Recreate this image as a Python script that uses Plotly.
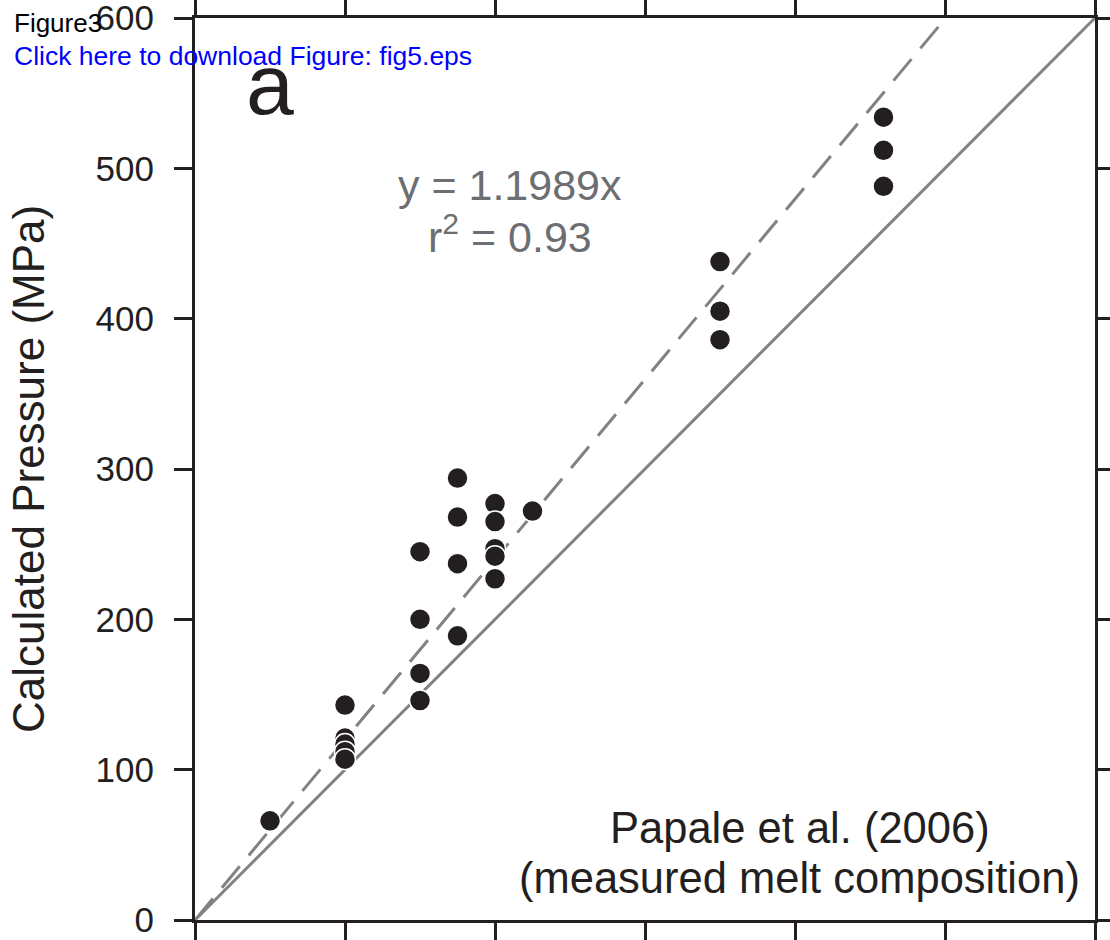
import plotly.graph_objects as go

# Data (measured pressure vs calculated pressure, MPa)
measured = [50,
            100, 100, 100, 100, 100,
            150, 150, 150, 150,
            175, 175, 175, 175,
            200, 200, 200, 200, 200,
            225,
            350, 350, 350,
            459, 459, 459]
calculated = [66,
              143, 121, 117, 112, 107,
              245, 200, 164, 146,
              294, 268, 237, 189,
              277, 265, 247, 242, 227,
              272,
              438, 405, 386,
              534, 512, 488]

slope = 1.1989
axis_max = 600
y_ticks = [0, 100, 200, 300, 400, 500, 600]

dark = "#231f20"
gray = "#808285"
font_family = "Liberation Sans, Arial, Helvetica, sans-serif"

fig = go.Figure()

# 1:1 line
fig.add_trace(go.Scatter(x=[0, axis_max], y=[0, axis_max], mode="lines",
                         line=dict(color=gray, width=3), showlegend=False,
                         hoverinfo="skip"))
# Regression line y = 1.1989x
fig.add_trace(go.Scatter(x=[0, axis_max / slope], y=[0, axis_max], mode="lines",
                         line=dict(color=gray, width=3, dash="28px,14px"),
                         showlegend=False, hoverinfo="skip"))
# Data points
fig.add_trace(go.Scatter(x=measured, y=calculated, mode="markers",
                         marker=dict(color=dark, size=21,
                                     line=dict(color="white", width=1.5)),
                         showlegend=False, cliponaxis=False))

axis_common = dict(range=[0, axis_max], showgrid=False, zeroline=False,
                   showline=True, linewidth=3, linecolor=dark,
                   ticks="outside", ticklen=18, tickwidth=3, tickcolor=dark,
                   mirror="ticks", tickvals=y_ticks, automargin=False)

fig.update_xaxes(**axis_common, showticklabels=False)
fig.update_yaxes(**axis_common, ticktext=[str(v) for v in y_ticks],
                 ticklabelstandoff=13, ticklabeloverflow="allow",
                 tickfont=dict(size=35, color=dark, family=font_family))

annotations = [
    dict(x=(28 - 195) / 900, y=0.5, xref="paper", yref="paper",
         text="Calculated Pressure (MPa)", textangle=-90, showarrow=False,
         xanchor="center", yanchor="middle",
         font=dict(size=44, color=dark, family=font_family)),
    dict(x=50, y=556, xref="x", yref="y", text="a", showarrow=False,
         font=dict(size=86, color=dark, family=font_family)),
    dict(x=210, y=489, xref="x", yref="y", text="y = 1.1989x", showarrow=False,
         font=dict(size=43, color="#6d6e71", family=font_family)),
    dict(x=210, y=456, xref="x", yref="y", text="r<sup>2</sup> = 0.93", showarrow=False,
         font=dict(size=43, color="#6d6e71", family=font_family)),
    dict(x=403, y=61, xref="x", yref="y", text="Papale et al. (2006)", showarrow=False,
         font=dict(size=43.5, color=dark, family=font_family)),
    dict(x=403, y=28, xref="x", yref="y", text="(measured melt composition)", showarrow=False,
         font=dict(size=43.5, color=dark, family=font_family)),
    dict(x=(12 - 195) / 900, y=(920 - 23) / 902, xref="paper", yref="paper",
         xanchor="left", yanchor="middle", text="Figure3", showarrow=False,
         font=dict(size=26, color="black", family=font_family)),
    dict(x=(12 - 195) / 900, y=(920 - 56) / 902, xref="paper", yref="paper",
         xanchor="left", yanchor="middle", text="Click here to download Figure: fig5.eps",
         showarrow=False, font=dict(size=26.5, color="#0000ff", family=font_family)),
]

fig.update_layout(width=1110, height=940, autosize=False,
                  margin=dict(l=195, r=15, t=18, b=20),
                  plot_bgcolor="white", paper_bgcolor="white",
                  annotations=annotations,
                  font=dict(family=font_family, color=dark))

fig.write_html("out.html")
